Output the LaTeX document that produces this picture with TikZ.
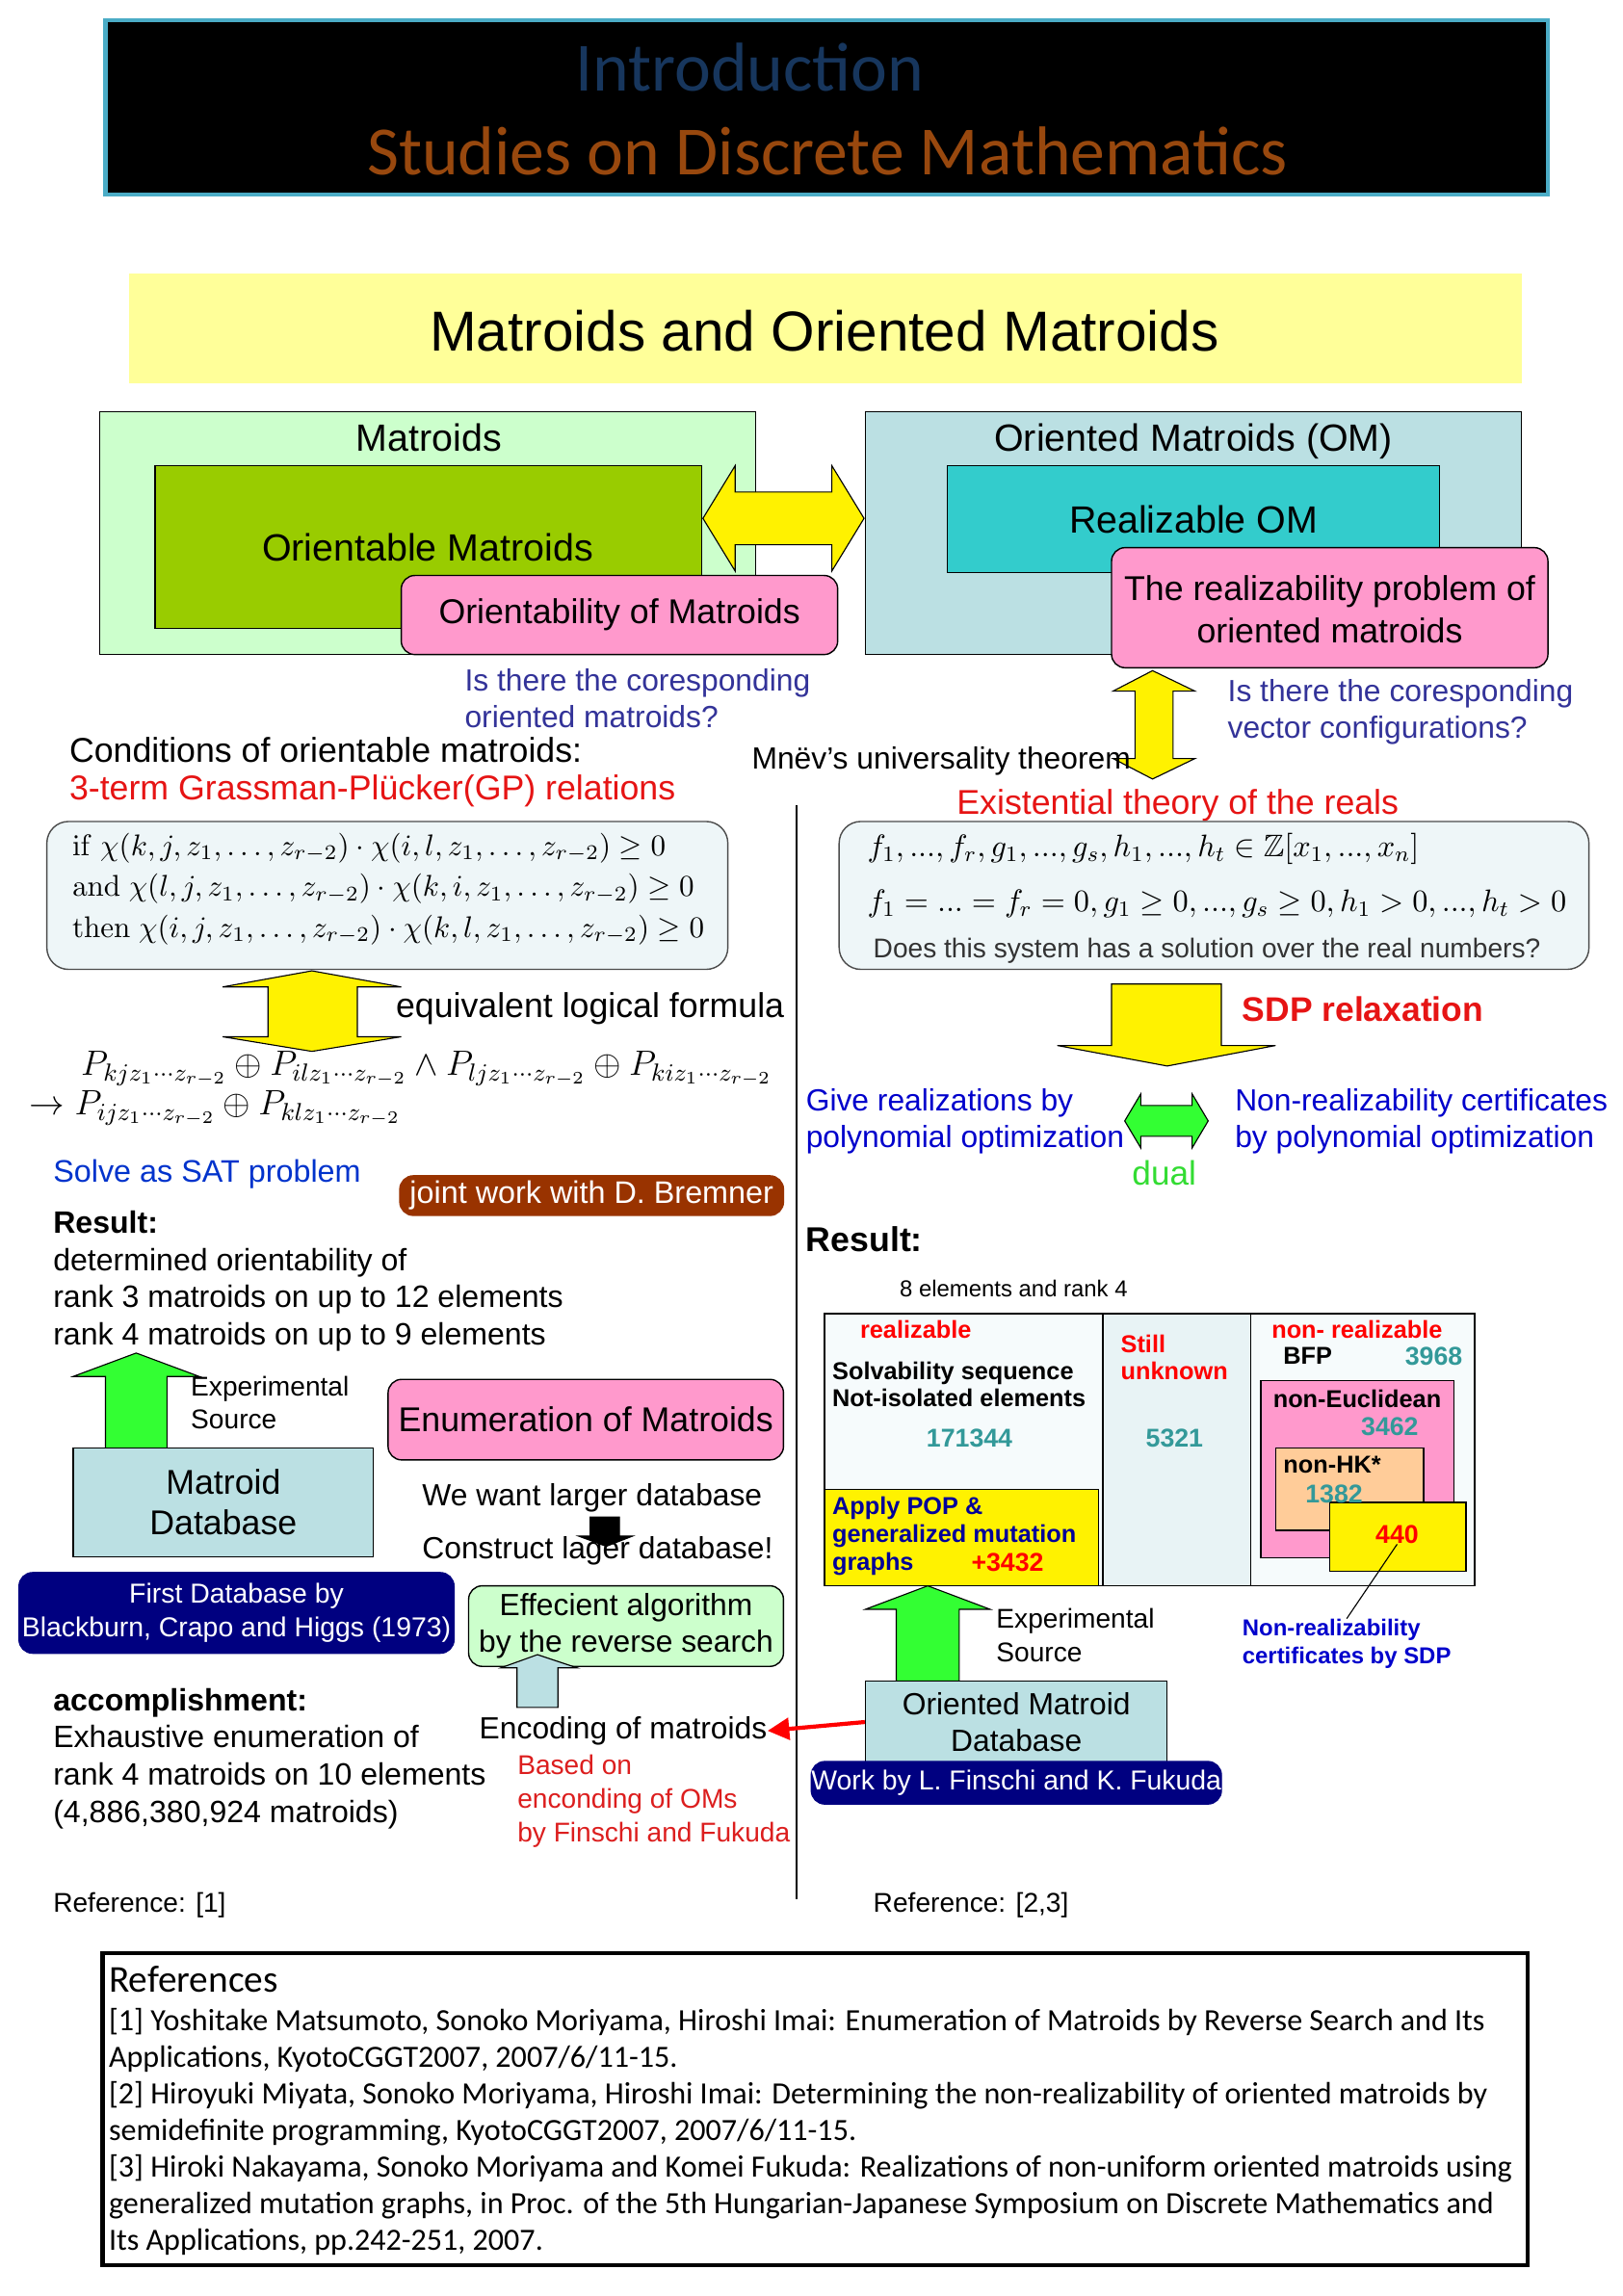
\RequirePackage{fix-cm}
\documentclass[tikz,border=0pt]{standalone}
\usepackage{amsmath,amssymb}
\usepackage[no-math]{fontspec}
\setmainfont{Liberation Sans}
\newfontfamily\calibrifont{Carlito}
\usetikzlibrary{fit,calc,arrows.meta}

\definecolor{headframe}{RGB}{75,172,198}
\definecolor{introblue}{RGB}{23,54,93}
\definecolor{studiesbrown}{RGB}{152,72,14}
\definecolor{banner}{RGB}{255,255,153}
\definecolor{palegreen}{RGB}{204,255,204}
\definecolor{olivegreen}{RGB}{153,204,0}
\definecolor{rosepink}{RGB}{255,153,204}
\definecolor{paleteal}{RGB}{187,224,227}
\definecolor{realteal}{RGB}{51,204,204}
\definecolor{questionblue}{RGB}{51,51,153}
\definecolor{gpred}{RGB}{230,20,20}
\definecolor{formulabg}{RGB}{238,246,248}
\definecolor{satblue}{RGB}{0,51,204}
\definecolor{optblue}{RGB}{0,0,204}
\definecolor{brick}{RGB}{153,51,0}
\definecolor{navybox}{RGB}{0,0,128}
\definecolor{tealnum}{RGB}{51,153,153}
\definecolor{peach}{RGB}{255,204,153}
\definecolor{arrowgreen}{RGB}{51,255,51}
\definecolor{dualgreen}{RGB}{51,220,51}
\definecolor{cellpale}{RGB}{246,251,252}
\definecolor{cellmid}{RGB}{232,243,245}
\definecolor{popblue}{RGB}{0,0,153}
\definecolor{basedred}{RGB}{220,30,30}

\begin{document}
\begin{tikzpicture}[x=0.019cm, y=-0.019cm,
    box/.style={draw, line width=0.5pt, inner sep=0pt},
    roundbox/.style={box, rounded corners=5pt},
    formulabox/.style={box, draw=black!70, fill=formulabg, rounded corners=8pt},
    blockarrow/.style={draw=black, line width=0.4pt},
    body/.style={inner sep=0pt, font=\fontsize{12.7}{15}\selectfont},
    heading/.style={inner sep=0pt, font=\fontsize{14}{16}\selectfont},
    medium/.style={inner sep=0pt, font=\fontsize{11.3}{13.5}\selectfont},
    note/.style={inner sep=0pt, font=\fontsize{10}{12}\selectfont},
    cell/.style={inner sep=0pt, font=\bfseries\fontsize{9}{10.2}\selectfont},
    count/.style={inner sep=0pt, font=\bfseries\fontsize{9.5}{11}\selectfont, text=tealnum},
    mathline/.style={inner sep=0pt, anchor=west, font=\fontsize{11.05}{15.1}\selectfont}
  ]

\useasboundingbox (0,0) rectangle (1108,1568);
\fill[white] (0,0) rectangle (1108,1568);

% header
\node[fit={(72,14) (1057,133)}, inner sep=0pt, fill=black, draw=headframe, line width=1.5pt] (header) {};
\node[inner sep=0pt, font=\calibrifont\fontsize{25.5}{30}\selectfont, text=introblue] (intro) at (512,46) {Introduction};
\node[inner sep=0pt, font=\calibrifont\fontsize{25.5}{30}\selectfont, text=studiesbrown] (studies) at (565,103) {Studies on Discrete Mathematics};

\node[fit={(88,187) (1039,262)}, inner sep=0pt, fill=banner] (banner) {};
\node[inner sep=0pt, font=\fontsize{20.8}{25}\selectfont] (bannertitle) at (563,226) {Matroids and Oriented Matroids};

% matroids and oriented matroids
\node[box, fill=palegreen, fit={(68,281) (516,447)}] (matroids) {};
\node[heading] (matroidstitle) at (293,299) {Matroids};
\node[box, fill=olivegreen, fit={(106,318) (479,429)}] (orientable) {};
\node[heading] (orientabletext) at (292,374) {Orientable Matroids};
\filldraw[blockarrow, fill=yellow] (480,354) -- (502,318) -- (502,336) -- (568,336) -- (568,318) -- (590,354)
  -- (568,390) -- (568,372) -- (502,372) -- (502,390) -- cycle;
\node[roundbox, fill=rosepink, fit={(274,393) (572,447)}] (orientability) {};
\node[body] (orientabilitytext) at (orientability.center) {Orientability of Matroids};

\node[box, fill=paleteal, fit={(591,281) (1039,447)}] (om) {};
\node[heading] (omtitle) at (815,301.5) {Oriented Matroids (OM)};
\node[box, fill=realteal, fit={(647,318) (983,391)}] (realizable) {};
\node[heading] (realizabletext) at (815,355) {Realizable OM};
\node[roundbox, fill=rosepink, fit={(759,374) (1057,456)}] (realproblem) {};
\node[body, font=\fontsize{12.7}{15.6}\selectfont, align=center] (realproblemtext) at (908,416) {The realizability problem of\\oriented matroids};

\filldraw[blockarrow, fill=yellow] (787,458) -- (816,472) -- (801,472) -- (801,518) -- (816,518) -- (787,532)
  -- (760,518) -- (775,518) -- (775,472) -- (760,472) -- cycle;

\node[medium, anchor=west, align=left, text=questionblue] (orientq) at (317,477) {Is there the coresponding\\oriented matroids?};
\node[medium, anchor=west, align=left, text=questionblue] (vectorq) at (838,486) {Is there the coresponding\\vector configurations?};

% left column
\node[body, anchor=west] (conditions) at (47,512) {Conditions of orientable matroids:};
\node[body, anchor=west, text=gpred] (gprel) at (47,540) {3-term Grassman-Plücker(GP) relations};
\node[medium, anchor=west] (mnev) at (513,520) {Mnëv’s universality theorem};
\node[body, anchor=west, text=gpred] (existential) at (653,550) {Existential theory of the reals};

\draw[line width=0.5pt] (544,550) -- (544,1297);

\node[formulabox, fit={(32,561) (497,662)}] (gpbox) {};
\node[mathline, align=left] (gpcond) at (49,607) {$\mathrm{if}\ \chi(k,j,z_1,\ldots,z_{r-2})\cdot\chi(i,l,z_1,\ldots,z_{r-2})\ge 0$\\
  $\mathrm{and}\ \chi(l,j,z_1,\ldots,z_{r-2})\cdot\chi(k,i,z_1,\ldots,z_{r-2})\ge 0$\\
  $\mathrm{then}\ \chi(i,j,z_1,\ldots,z_{r-2})\cdot\chi(k,l,z_1,\ldots,z_{r-2})\ge 0$};

\filldraw[blockarrow, fill=yellow] (213,663) -- (274,674) -- (244,674) -- (244,708) -- (274,708) -- (213,718)
  -- (152,708) -- (183,708) -- (183,674) -- (152,674) -- cycle;
\node[body, anchor=west] (equivalent) at (270,689) {equivalent logical formula};

\node[mathline, font=\fontsize{13}{15}\selectfont] (plogic) at (55,730) {$P_{kjz_1\cdots z_{r-2}}\oplus P_{ilz_1\cdots z_{r-2}}\wedge P_{ljz_1\cdots z_{r-2}}\oplus P_{kiz_1\cdots z_{r-2}}$};
\node[mathline, font=\fontsize{13}{15}\selectfont] (pimply) at (20,757) {$\to P_{ijz_1\cdots z_{r-2}}\oplus P_{klz_1\cdots z_{r-2}}$};

\node[body, anchor=west, text=satblue, font=\fontsize{11.5}{14}\selectfont] (sat) at (36,802) {Solve as SAT problem};
\node[roundbox, draw=brick, fill=brick, fit={(273,803) (535,830)}] (bremner) {};
\node[inner sep=0pt, text=white, font=\fontsize{11.5}{13}\selectfont] (bremnertext) at (bremner.center) {joint work with D. Bremner};

\node[body, anchor=west, align=left, font=\fontsize{11.4}{13.7}\selectfont] (resultleft) at (36,875) {\textbf{Result:}\\determined orientability of\\rank 3 matroids on up to 12 elements\\rank 4 matroids on up to 9 elements};

\filldraw[blockarrow, fill=arrowgreen] (93,924) -- (136,940) -- (114,940) -- (114,989) -- (72,989) -- (72,940) -- (50,940) -- cycle;
\node[note, anchor=west, align=left, font=\fontsize{10}{11.9}\selectfont] (expleft) at (130,958) {Experimental\\Source};
\node[box, fill=paleteal, fit={(50,989) (255,1063)}] (matroiddb) {};
\node[body, align=center] (matroiddbtext) at (matroiddb.center) {Matroid\\Database};

\node[roundbox, fill=rosepink, fit={(265,942) (535,997)}] (enumeration) {};
\node[body] (enumerationtext) at (enumeration.center) {Enumeration of Matroids};
\node[medium, anchor=west] (wantlarger) at (288,1023) {We want larger database};
\filldraw[fill=black] (403,1036) -- (423,1036) -- (423,1049) -- (432,1049) -- (414,1056) -- (395,1049) -- (403,1049) -- cycle;
\node[medium, anchor=west] (construct) at (288,1059) {Construct lager database!};

\node[roundbox, draw=navybox, fill=navybox, fit={(13,1074) (310,1129)}] (firstdb) {};
\node[inner sep=0pt, text=white, align=center, font=\fontsize{10.1}{12.4}\selectfont] (firstdbtext) at (firstdb.center) {First Database by\\Blackburn, Crapo and Higgs (1973)};
\node[roundbox, fill=palegreen, fit={(320,1083) (535,1138)}] (reverse) {};
\node[medium, align=center] (reversetext) at (reverse.center) {Effecient algorithm\\by the reverse search};
\filldraw[blockarrow, fill=paleteal] (367,1130) -- (394,1139) -- (381,1139) -- (381,1166) -- (353,1166) -- (353,1139) -- (342,1139) -- cycle;

\node[body, anchor=west, align=left, font=\fontsize{11.4}{13.8}\selectfont] (accomplish) at (36,1201) {\textbf{accomplishment:}\\Exhaustive enumeration of\\rank 4 matroids on 10 elements\\(4,886,380,924 matroids)};
\node[medium, anchor=west] (encoding) at (327,1182) {Encoding of matroids};
\node[note, anchor=west, align=left, text=basedred, font=\fontsize{10}{12.4}\selectfont] (basedon) at (353,1230) {Based on\\enconding of OMs\\by Finschi and Fukuda};
\node[note, anchor=west] (refleft) at (36,1301) {Reference: [1]};

% right column
\node[formulabox, fit={(573,561) (1085,662)}] (etrbox) {};
\node[mathline, font=\fontsize{11.5}{14}\selectfont] (polys) at (592,580) {$f_1,...,f_r,g_1,...,g_s,h_1,...,h_t\in\mathbb{Z}[x_1,...,x_n]$};
\node[mathline, font=\fontsize{11.5}{14}\selectfont] (system) at (592,617) {$f_1=...=f_r=0,g_1\ge 0,...,g_s\ge 0,h_1>0,...,h_t>0$};
\node[note, anchor=west, text=black!80] (solution) at (596,649) {Does this system has a solution over the real numbers?};

\filldraw[blockarrow, fill=yellow] (759,672) -- (834,672) -- (834,714) -- (871,714) -- (797,728) -- (722,714) -- (759,714) -- cycle;
\node[body, anchor=west, text=gpred, font=\bfseries\fontsize{12.6}{15}\selectfont] (sdp) at (848,689) {SDP relaxation};

\node[medium, anchor=west, align=left, text=optblue] (giverealize) at (550,766) {Give realizations by\\polynomial optimization};
\filldraw[blockarrow, fill=arrowgreen] (768,765.5) -- (779,747) -- (779,755) -- (814,755) -- (814,747) -- (825,765.5)
  -- (814,784) -- (814,776) -- (779,776) -- (779,784) -- cycle;
\node[inner sep=0pt, font=\fontsize{12.5}{15}\selectfont, text=dualgreen] (dual) at (795,801) {dual};
\node[medium, anchor=west, align=left, text=optblue] (nonrealize) at (843,766) {Non-realizability certificates\\by polynomial optimization};

\node[body, anchor=west, font=\bfseries\fontsize{12.7}{15}\selectfont] (resultright) at (550,846) {Result:};
\node[inner sep=0pt, anchor=west, font=\fontsize{8.5}{10}\selectfont] (eightrank) at (614,880) {8 elements and rank 4};

% result table
\node[box, fill=cellpale, fit={(563,897) (753,1083)}] (colreal) {};
\node[box, fill=cellmid, fit={(753,897) (854,1083)}] (colunknown) {};
\node[box, fill=cellpale, fit={(854,897) (1007,1083)}] (colnonreal) {};
\node[box, fill=yellow, fit={(563,1017) (750,1083)}] (popbox) {};
\node[box, fill=rosepink, fit={(861,943) (993,1064)}] (euclidbox) {};
\node[box, fill=peach, fit={(871,989) (972,1045)}] (hkbox) {};
\node[box, fill=yellow, fit={(908,1026) (1001,1073)}] (box440) {};

\node[cell, anchor=west, text=red] (realizablelbl) at (587,908) {realizable};
\node[cell, anchor=west, align=left] (solvability) at (568,945.5) {Solvability sequence\\Not-isolated elements};
\node[count] (n171344) at (662,982) {171344};
\node[cell, anchor=west, align=left, text=red] (stillunknown) at (765,927) {Still\\unknown};
\node[count] (n5321) at (802,982) {5321};
\node[cell, anchor=west, text=red] (nonrealizablelbl) at (868,908) {non- realizable};
\node[cell, anchor=west] (bfp) at (876,926) {BFP};
\node[count, anchor=east] (n3968) at (999,926) {3968};
\node[cell, anchor=west] (noneuclid) at (869,955) {non-Euclidean};
\node[count] (n3462) at (949,974) {3462};
\node[cell, anchor=west] (nonhk) at (876,1000) {non-HK*};
\node[count] (n1382) at (911,1020) {1382};
\node[count, text=red] (n440) at (954,1048) {440};
\node[cell, anchor=west, align=left, text=popblue, font=\bfseries\fontsize{9}{10.4}\selectfont] (applypop) at (568,1049) {Apply POP \&\\generalized mutation\\graphs};
\node[cell, text=red, font=\bfseries\fontsize{9.5}{11}\selectfont] (n3432) at (688,1067) {+3432};

\node[cell, anchor=west, align=left, text=optblue, font=\bfseries\fontsize{8.5}{10.2}\selectfont] (sdpcert) at (848,1122.5) {Non-realizability\\certificates by SDP};
\draw[line width=0.4pt] (n440.south) -- (sdpcert.north);

\filldraw[blockarrow, fill=arrowgreen] (633.5,1083) -- (676,1099) -- (655,1099) -- (655,1148) -- (612,1148) -- (612,1099) -- (591,1099) -- cycle;
\node[note, anchor=west, align=left, font=\fontsize{10}{12.4}\selectfont] (expright) at (680,1116.5) {Experimental\\Source};
\node[box, fill=paleteal, fit={(591,1148) (797,1204)}] (omdb) {};
\node[medium, align=center] (omdbtext) at (694,1176) {Oriented Matroid\\Database};
\node[roundbox, draw=navybox, fill=navybox, fit={(554,1203) (834,1232)}] (finschi) {};
\node[inner sep=0pt, text=white, font=\fontsize{10.1}{12}\selectfont] (finschitext) at (finschi.center) {Work by L. Finschi and K. Fukuda};

\draw[red, line width=1.5pt, -{Triangle[length=8pt,width=8pt]}] (omdb.west) -- (encoding.east);

\node[note, anchor=west] (refright) at (596,1301) {Reference: [2,3]};

% references
\node[box, line width=1.5pt, fit={(70,1334) (1043,1547)}] (refbox) {};
\node[inner sep=0pt, anchor=west, font=\calibrifont\fontsize{14}{16}\selectfont] (reftitle) at (74,1352) {References};
\node[inner sep=0pt, anchor=west, align=left, font=\calibrifont\fontsize{11.4}{13.5}\selectfont] (reflist) at (74,1456) {[1] Yoshitake Matsumoto, Sonoko Moriyama, Hiroshi Imai: Enumeration of Matroids by Reverse Search and Its\\
Applications, KyotoCGGT2007, 2007/6/11-15.\\\relax
[2] Hiroyuki Miyata, Sonoko Moriyama, Hiroshi Imai: Determining the non-realizability of oriented matroids by\\
semidefinite programming, KyotoCGGT2007, 2007/6/11-15.\\\relax
[3] Hiroki Nakayama, Sonoko Moriyama and Komei Fukuda: Realizations of non-uniform oriented matroids using\\
generalized mutation graphs, in Proc. of the 5th Hungarian-Japanese Symposium on Discrete Mathematics and\\
Its Applications, pp.242-251, 2007.};

\end{tikzpicture}
\end{document}
